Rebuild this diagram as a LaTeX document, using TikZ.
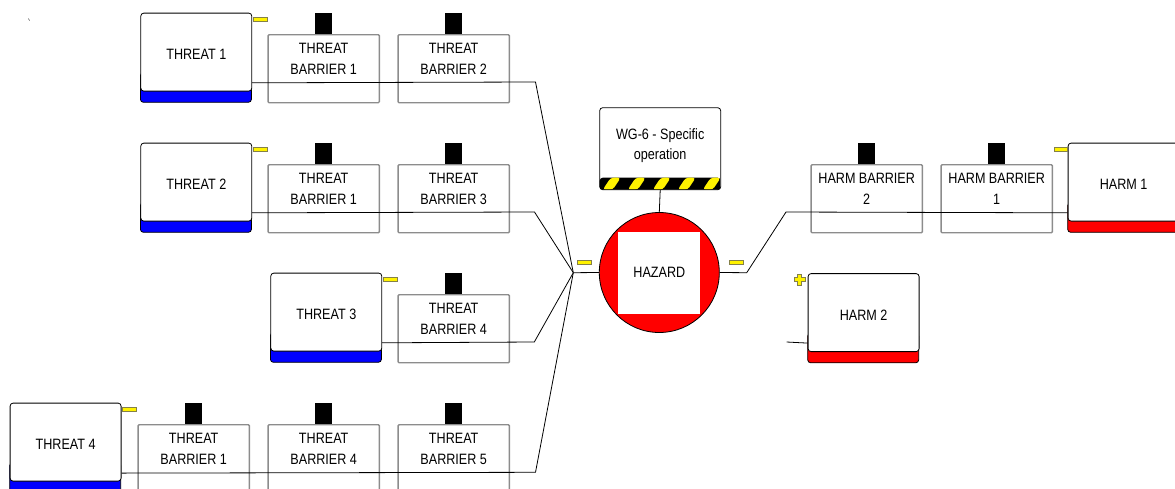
\documentclass[tikz,border=0pt]{standalone}
\usepackage{fontspec}
\setmainfont{Liberation Sans}[FakeStretch=0.84]
\usetikzlibrary{calc}

% risk box: white card with a coloured footer bar
% #1 name, #2 left, #3 top, #4 text, #5 footer colour
\newcommand{\RiskBox}[5]{%
  \draw[riskbar, fill=#5] (#2,#3+60) rectangle (#2+111,#3+89.6);
  \node[riskbox] (#1) at (#2,#3) {#4};
}
% barrier box with its black tab on top
% #1 name, #2 left, #3 top, #4 text
\newcommand{\Barrier}[4]{%
  \node[barrierbox, label={[yshift=10pt, align=center, inner sep=0pt]center:#4}] (#1) at (#2,#3) {};
  \fill[bartab] ([xshift=-8.5pt]#1.north) rectangle ([xshift=8.5pt, yshift=21pt]#1.north);
}

\begin{document}
\begin{tikzpicture}[x=1pt, y=-1pt,
  every node/.style={font=\fontsize{15}{20.5}\selectfont, text=black},
  conn/.style={draw=black, line width=0.8pt},
  riskbox/.style={draw=black, line width=0.8pt, fill=white, rounded corners=3pt,
    minimum width=111pt, minimum height=78pt, anchor=north west, inner sep=0pt,
    text height=15.5pt, text depth=0pt},
  riskbar/.style={draw=black, line width=0.8pt, rounded corners=3pt},
  barrierbox/.style={draw=black!45, line width=1.4pt, fill=white, rounded corners=1pt,
    minimum width=111.2pt, minimum height=68pt, anchor=north west, inner sep=0pt},
  bartab/.style={fill=black},
  signtab/.style={fill=yellow, draw=yellow!45!black, line width=0.5pt},
  wgbox/.style={draw=black, line width=0.8pt, fill=white, rounded corners=3pt,
    minimum width=121pt, minimum height=82pt, anchor=north west, inner sep=0pt,
    path picture={
      \fill[black] ([yshift=12pt]path picture bounding box.south west)
        rectangle (path picture bounding box.south east);
      \foreach \i in {0,...,5} {
        \fill[yellow] ([xshift=3pt+\i*25pt]path picture bounding box.south west)
          -- ++(10pt,0pt) -- ++(8pt,12pt) -- ++(-10pt,0pt) -- cycle;
      }
    }},
]
\useasboundingbox (0,0) rectangle (1175,488);
\clip (0,0) rectangle (1175,488);

% stray tick in the upper left corner
\draw[black!60, line width=0.6pt] (28.3,18.5) -- (29.6,20.6);

% ---------- threats and their barriers ----------
\RiskBox{t1}{140.4}{12.7}{THREAT 1}{blue}
\Barrier{tb11}{267.4}{34}{THREAT\\BARRIER 1}
\Barrier{tb12}{397.4}{34}{THREAT\\BARRIER 2}

\RiskBox{t2}{140.4}{142.7}{THREAT 2}{blue}
\Barrier{tb21}{267.4}{164}{THREAT\\BARRIER 1}
\Barrier{tb22}{397.4}{164}{THREAT\\BARRIER 3}

\RiskBox{t3}{270.4}{272.7}{THREAT 3}{blue}
\Barrier{tb31}{397.4}{294}{THREAT\\BARRIER 4}

\RiskBox{t4}{9.7}{402.7}{THREAT 4}{blue}
\Barrier{tb41}{137.4}{424}{THREAT\\BARRIER 1}
\Barrier{tb42}{267.4}{424}{THREAT\\BARRIER 4}
\Barrier{tb43}{397.4}{424}{THREAT\\BARRIER 5}

% minus tabs on the threats
\draw[signtab] ($(t1.north east)+(1,4.6)$) rectangle ++(14,4);
\draw[signtab] ($(t2.north east)+(1,4.6)$) rectangle ++(14,4);
\draw[signtab] ($(t3.north east)+(1,4.6)$) rectangle ++(14,4);
\draw[signtab] ($(t4.north east)+(1,4.6)$) rectangle ++(14,4);

% ---------- hazard ----------
\node[wgbox, label={[yshift=3pt, align=center, inner sep=0pt]center:WG-6 - Specific\\operation}] (wg) at (599.3,107.3) {};
\node[circle, fill=red, draw=black, line width=0.8pt, minimum size=120pt, inner sep=0pt] (hz) at (659.3,272.5) {};
\node[fill=white, minimum size=82pt, inner sep=0pt] (hzc) at (hz.center) {HAZARD};

% ---------- harms and their barriers ----------
\Barrier{hb2}{810.4}{164}{HARM BARRIER\\2}
\Barrier{hb1}{940.4}{164}{HARM BARRIER\\1}
\RiskBox{h1}{1067.7}{142.7}{HARM 1}{red}
\RiskBox{h2}{807.7}{273.2}{HARM 2}{red}

\draw[signtab] ($(h1.north west)+(-13,5)$) rectangle ++(13,4);
% plus sign on harm 2
\draw[signtab] (797.5,274) -- ++(4,0) -- ++(0,3.5) -- ++(3.5,0) -- ++(0,4) -- ++(-3.5,0)
  -- ++(0,3.5) -- ++(-4,0) -- ++(0,-3.5) -- ++(-3.5,0) -- ++(0,-4) -- ++(3.5,0) -- cycle;

% ---------- connectors ----------
\coordinate (hub) at (573.3,272.7);
\coordinate (k1) at (535.5,82);
\coordinate (k2) at (534.5,212);
\coordinate (k3) at (534.3,342);
\coordinate (k4) at (535.5,472.3);
\coordinate (r1) at (746.7,272.7);
\coordinate (r2) at (786,212);
\coordinate (h2in) at (786.7,342);

\draw[conn] ($(t1.south east)+(0,-8.7)$) -- (k1) -- (hub);
\draw[conn] ($(t2.south east)+(0,-8.7)$) -- (k2) -- (hub);
\draw[conn] ($(t3.south east)+(0,-8.7)$) -- (k3) -- (hub);
\draw[conn] ($(t4.south east)+(0,-8.4)$) -- (k4) -- (hub);
\draw[conn] (hub) -- (hz.west);
\draw[conn] (wg.south) -- (hz.north);
\draw[conn] (hz.east) -- (r1) -- (r2) -- ($(h1.south west)+(0,-8.7)$);
\draw[conn] (h2in) -- ($(h2.south west)+(0,-8.9)$);

% minus tabs beside the hazard
\draw[signtab] (577.3,260.3) rectangle (591.3,264.3);
\draw[signtab] (729.3,260.3) rectangle (743,264.3);
\end{tikzpicture}
\end{document}
